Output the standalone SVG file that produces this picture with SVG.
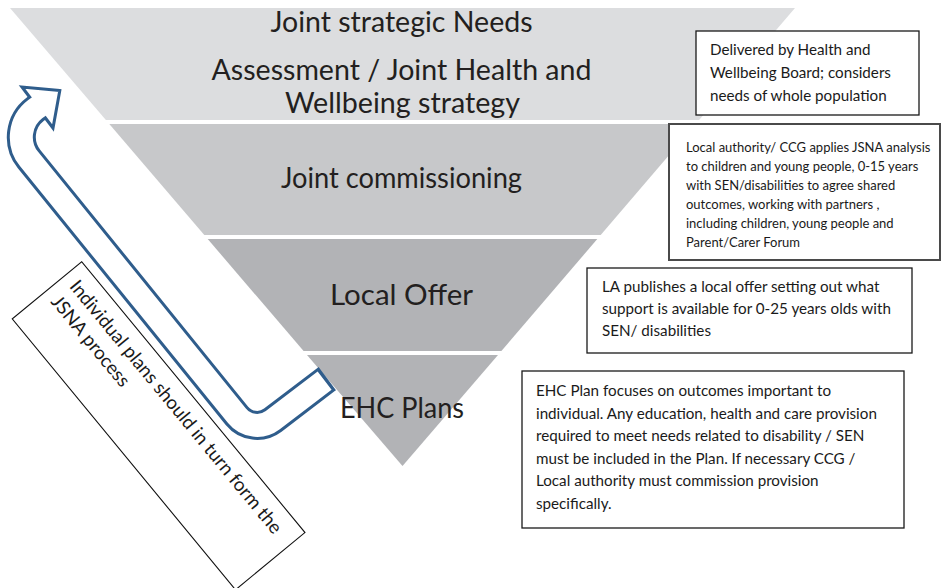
<svg xmlns="http://www.w3.org/2000/svg" width="941" height="588" viewBox="0 0 941 588">
  <style>
    .tier-label { font-family: Lato, "Open Sans", "Liberation Sans", sans-serif; font-size: 29px; fill: #231f20; text-anchor: middle; }
    .note-box { fill: #ffffff; stroke: #1a1a1a; stroke-width: 1.3; }
    .note-text { font-family: Lato, "Open Sans", "Liberation Sans", sans-serif; font-size: 15.2px; fill: #1a1a1a; }
    .note-small { font-size: 13px; }
    .arrow-edge { fill: none; stroke: #2f5d8c; stroke-width: 29; stroke-linejoin: round; }
    .arrow-body { fill: none; stroke: #ffffff; stroke-width: 23; stroke-linejoin: round; }
  </style>
  <rect width="941" height="588" fill="#ffffff"/>

  <!-- inverted pyramid, four tiers -->
  <g id="tier-jsna">
    <polygon points="10,8 795,8 699.1,120 105.9,120" fill="#dcdddf"/>
    <text class="tier-label" x="401.5" y="32" textLength="262" lengthAdjust="spacingAndGlyphs">Joint strategic Needs</text>
    <text class="tier-label" x="401.5" y="80" textLength="380" lengthAdjust="spacingAndGlyphs">Assessment / Joint Health and</text>
    <text class="tier-label" x="402.5" y="113" textLength="235" lengthAdjust="spacingAndGlyphs">Wellbeing strategy</text>
  </g>
  <g id="tier-commissioning">
    <polygon points="109.3,124 695.7,124 600.7,235 204.3,235" fill="#c7c8ca"/>
    <text class="tier-label" x="401.5" y="188" textLength="241" lengthAdjust="spacingAndGlyphs">Joint commissioning</text>
  </g>
  <g id="tier-local-offer">
    <polygon points="207.7,239 597.3,239 501.4,351 303.6,351" fill="#b2b3b6"/>
    <text class="tier-label" x="401.5" y="305" textLength="143" lengthAdjust="spacingAndGlyphs">Local Offer</text>
  </g>
  <g id="tier-ehc">
    <polygon points="307,355 498,355 402.5,466" fill="#b2b3b6"/>
    <text class="tier-label" x="402" y="418" textLength="124" lengthAdjust="spacingAndGlyphs">EHC Plans</text>
  </g>

  <!-- explanatory notes -->
  <g id="note-jsna">
    <rect class="note-box" x="696" y="31" width="223" height="84"/>
    <text class="note-text" x="710" y="55">Delivered by Health and</text>
    <text class="note-text" x="710" y="78">Wellbeing Board; considers</text>
    <text class="note-text" x="710" y="101">needs of whole population</text>
  </g>
  <g id="note-commissioning">
    <rect class="note-box" x="669" y="124" width="271" height="136" style="stroke:#4a4a4a;stroke-width:2"/>
    <text class="note-text note-small" x="686" y="152">Local authority/ CCG applies JSNA analysis</text>
    <text class="note-text note-small" x="686" y="171">to children and young people, 0-15 years</text>
    <text class="note-text note-small" x="686" y="190">with SEN/disabilities to agree shared</text>
    <text class="note-text note-small" x="686" y="209">outcomes, working with partners ,</text>
    <text class="note-text note-small" x="686" y="228">including children, young people and</text>
    <text class="note-text note-small" x="686" y="247">Parent/Carer Forum</text>
  </g>
  <g id="note-local-offer">
    <rect class="note-box" x="587" y="268" width="325" height="85"/>
    <text class="note-text" x="602" y="292">LA publishes a local offer setting out what</text>
    <text class="note-text" x="602" y="314">support is available for 0-25 years olds with</text>
    <text class="note-text" x="602" y="336">SEN/ disabilities</text>
  </g>
  <g id="note-ehc">
    <rect class="note-box" x="522" y="371" width="382" height="157"/>
    <text class="note-text" x="536" y="396">EHC Plan focuses on outcomes important to</text>
    <text class="note-text" x="536" y="418.5">individual. Any education, health and care provision</text>
    <text class="note-text" x="536" y="441">required to meet needs related to disability / SEN</text>
    <text class="note-text" x="536" y="463.5">must be included in the Plan. If necessary CCG /</text>
    <text class="note-text" x="536" y="486">Local authority must commission provision</text>
    <text class="note-text" x="536" y="508.5">specifically.</text>
  </g>

  <!-- slanted caption beside the feedback arrow -->
  <g id="note-feedback" transform="translate(81.7,261.7) rotate(50.5)">
    <rect x="0" y="0" width="351" height="90" fill="#ffffff" stroke="#111111" stroke-width="1.1"/>
    <text class="note-text" x="11" y="26" style="font-size:18.8px">Individual plans should in turn form the</text>
    <text class="note-text" x="11" y="50" style="font-size:18.8px">JSNA process</text>
  </g>

  <!-- feedback arrow from EHC Plans back up to the JSNA tier -->
  <g id="connectors">
    <path class="arrow-edge" d="M327.3,378.6 L326.1,379.5 L272.8,420.1 A26 26 0 0 1 236.95,415.8 L29.1,159.1 A35 35 0 0 1 35.2,109.2 L37.5,107.5"/>
    <polygon points="59.8,90.6 22,87 53,128" fill="#ffffff" stroke="#2f5d8c" stroke-width="3" stroke-linejoin="miter"/>
    <path class="arrow-body" d="M324.6,380.6 L272.8,420.1 A26 26 0 0 1 236.95,415.8 L29.1,159.1 A35 35 0 0 1 35.2,109.2 L37.5,107.5 L40,105.6"/>
  </g>
</svg>
